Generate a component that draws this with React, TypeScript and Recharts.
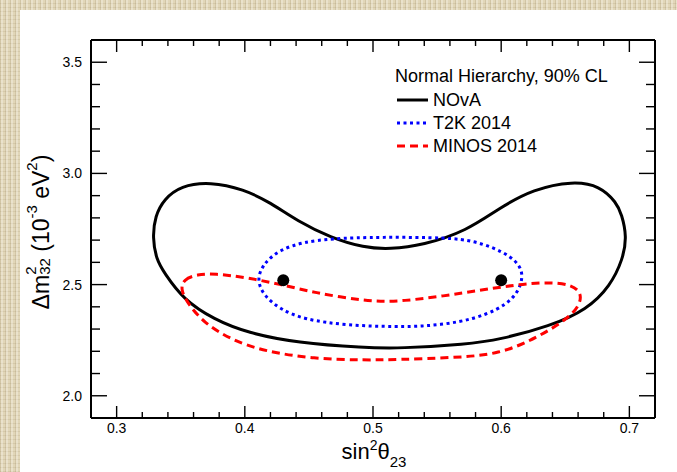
import { Legend, Scatter, ScatterChart, XAxis, YAxis } from 'recharts'

// 90% CL contours, (sin^2 theta23, dm^2_32 in 1e-3 eV^2), traced clockwise
const novaContour: [number, number][] = [
  [0.328, 2.711], [0.330, 2.809], [0.337, 2.884], [0.350, 2.944], [0.373, 2.962],
  [0.399, 2.929], [0.420, 2.869], [0.441, 2.786], [0.467, 2.711], [0.493, 2.666],
  [0.513, 2.659], [0.539, 2.677], [0.573, 2.741], [0.599, 2.846], [0.625, 2.929],
  [0.656, 2.966], [0.677, 2.944], [0.690, 2.869], [0.694, 2.816], [0.698, 2.718],
  [0.695, 2.614], [0.685, 2.493], [0.667, 2.388], [0.638, 2.313], [0.599, 2.253],
  [0.573, 2.231], [0.521, 2.213], [0.493, 2.216], [0.441, 2.238], [0.402, 2.283],
  [0.376, 2.343], [0.352, 2.433], [0.337, 2.554], [0.331, 2.613],
]

const t2kContour: [number, number][] = [
  [0.409, 2.523], [0.415, 2.599], [0.428, 2.659], [0.446, 2.691], [0.467, 2.707],
  [0.506, 2.714], [0.560, 2.711], [0.578, 2.696], [0.594, 2.666], [0.607, 2.628],
  [0.615, 2.583], [0.617, 2.531], [0.613, 2.464], [0.604, 2.411], [0.589, 2.366],
  [0.568, 2.331], [0.542, 2.313], [0.519, 2.310], [0.480, 2.316], [0.446, 2.343],
  [0.428, 2.388], [0.415, 2.448],
]

const minosContour: [number, number][] = [
  [0.350, 2.478], [0.352, 2.523], [0.363, 2.546], [0.376, 2.550], [0.402, 2.531],
  [0.428, 2.501], [0.454, 2.464], [0.493, 2.426], [0.521, 2.421], [0.573, 2.464],
  [0.612, 2.501], [0.638, 2.511], [0.654, 2.501], [0.663, 2.464], [0.661, 2.403],
  [0.651, 2.343], [0.630, 2.268], [0.599, 2.185], [0.560, 2.171], [0.521, 2.163],
  [0.493, 2.160], [0.454, 2.166], [0.415, 2.200], [0.389, 2.253], [0.368, 2.328],
  [0.355, 2.418],
]

// NOvA best-fit points (two octants)
const bestFits: [number, number][] = [
  [0.43, 2.52],
  [0.6, 2.52],
]

const xTicks = [
  0.3, 0.32, 0.34, 0.36, 0.38, 0.4, 0.42, 0.44, 0.46, 0.48, 0.5,
  0.52, 0.54, 0.56, 0.58, 0.6, 0.62, 0.64, 0.66, 0.68, 0.7,
]
const xMajor = [0.3, 0.4, 0.5, 0.6, 0.7]
const yTicks = [
  2.0, 2.1, 2.2, 2.3, 2.4, 2.5, 2.6, 2.7, 2.8, 2.9, 3.0, 3.1, 3.2, 3.3, 3.4, 3.5,
]
const yMajor = [2.0, 2.5, 3.0, 3.5]

const FONT = '"Liberation Sans", Arial, Helvetica, sans-serif'

const seriesStyle: Record<string, { stroke: string; dash?: string }> = {
  NOvA: { stroke: '#000000' },
  'T2K 2014': { stroke: '#0000ff', dash: '3 3.5' },
  'MINOS 2014': { stroke: '#ff0000', dash: '8 5' },
}

const contours = [
  { name: 'NOvA', points: novaContour },
  { name: 'T2K 2014', points: t2kContour },
  { name: 'MINOS 2014', points: minosContour },
]

const toPoints = (pts: [number, number][]) => pts.map(([x, y]) => ({ x, y }))

const isMajor = (list: number[], v: number) => list.some((m) => Math.abs(m - v) < 1e-9)

const tickText = { fontFamily: FONT, fontSize: 14, fill: '#000' }

function BottomTick({ x, y, payload }: any) {
  const major = isMajor(xMajor, payload.value)
  return (
    <g>
      <line x1={x} x2={x} y1={y} y2={y - (major ? 12 : 6)} stroke="#000" strokeWidth={1.4} />
      {major && (
        <text x={x} y={y + 15} textAnchor="middle" {...tickText}>
          {payload.value.toFixed(1)}
        </text>
      )}
    </g>
  )
}

function TopTick({ x, y, payload }: any) {
  const major = isMajor(xMajor, payload.value)
  return <line x1={x} x2={x} y1={y} y2={y + (major ? 12 : 6)} stroke="#000" strokeWidth={1.4} />
}

function LeftTick({ x, y, payload }: any) {
  const major = isMajor(yMajor, payload.value)
  return (
    <g>
      <line x1={x} x2={x + (major ? 16 : 9)} y1={y} y2={y} stroke="#000" strokeWidth={1.4} />
      {major && (
        <text x={x - 9} y={y + 5} textAnchor="end" {...tickText}>
          {payload.value.toFixed(1)}
        </text>
      )}
    </g>
  )
}

function RightTick({ x, y, payload }: any) {
  const major = isMajor(yMajor, payload.value)
  return <line x1={x} x2={x - (major ? 16 : 9)} y1={y} y2={y} stroke="#000" strokeWidth={1.4} />
}

function XTitle({ viewBox }: any) {
  const cx = viewBox.x + viewBox.width / 2 + 1
  const y = viewBox.y + 41
  return (
    <text x={cx} y={y} textAnchor="middle" fontFamily={FONT} fontSize={22} fill="#000">
      sin
      <tspan fontSize={14} dy={-9}>2</tspan>
      <tspan dy={9}>θ</tspan>
      <tspan fontSize={15} dy={8}>23</tspan>
    </text>
  )
}

function YTitle({ viewBox }: any) {
  const cx = viewBox.x - 2
  const cy = viewBox.y + viewBox.height / 2 + 3
  return (
    <text
      transform={`translate(${cx},${cy}) rotate(-90)`}
      textAnchor="middle"
      fontFamily={FONT}
      fontSize={23}
      fill="#000"
    >
      Δm
      <tspan fontSize={15} dy={-13}>2</tspan>
      <tspan fontSize={15} dx={-8.3} dy={14}>32</tspan>
      <tspan dy={-1}> (10</tspan>
      <tspan fontSize={15} dy={-12}>-3</tspan>
      <tspan dy={12}> eV</tspan>
      <tspan fontSize={15} dy={-12}>2</tspan>
      <tspan dy={12}>)</tspan>
    </text>
  )
}

// Legend rows follow the contour order, not the default alphabetical sort
function LegendBox() {
  return (
    <svg width={260} height={100} style={{ display: 'block', overflow: 'visible' }}>
      <text x={5} y={22} fontFamily={FONT} fontSize={18} fill="#000">
        Normal Hierarchy, 90% CL
      </text>
      {contours.map((c, i) => {
        const s = seriesStyle[c.name]
        return (
          <g key={c.name}>
            <line
              x1={7}
              x2={38}
              y1={40 + 23 * i}
              y2={40 + 23 * i}
              stroke={s.stroke}
              strokeWidth={3}
              strokeDasharray={s.dash}
            />
            <text x={43} y={46 + 23 * i} fontFamily={FONT} fontSize={18} fill="#000">
              {c.name}
            </text>
          </g>
        )
      })}
    </svg>
  )
}

const NoMarker = () => <g />

const BestFitMarker = ({ cx, cy }: any) => <circle cx={cx} cy={cy} r={6} fill="#000" />

export default function App() {
  const frame = { stroke: '#000', strokeWidth: 2 }
  return (
    <div
      style={{
        position: 'absolute',
        left: 0,
        top: 0,
        width: 677,
        height: 472,
        overflow: 'hidden',
        backgroundColor: '#e1d6b8',
        backgroundImage:
          'repeating-linear-gradient(90deg, rgba(140,120,80,0.18) 0 1px, rgba(255,255,250,0.3) 1px 3px, transparent 3px 5px), repeating-linear-gradient(0deg, rgba(140,120,80,0.14) 0 1px, transparent 1px 4px)',
      }}
    >
      <div style={{ position: 'absolute', left: 20, top: 10, right: 0, bottom: 0, background: '#fff' }} />
      <div style={{ position: 'absolute', left: 0, top: 0 }}>
        <ScatterChart width={677} height={472} margin={{ top: 35, right: 17, bottom: 24, left: 51 }}>
          <XAxis
            type="number"
            dataKey="x"
            domain={[0.28, 0.72]}
            ticks={xTicks}
            interval={0}
            allowDataOverflow
            height={30}
            tickSize={0}
            tickMargin={0}
            tickLine={false}
            axisLine={frame}
            tick={<BottomTick />}
            label={<XTitle />}
          />
          <XAxis
            xAxisId="top"
            orientation="top"
            type="number"
            dataKey="x"
            domain={[0.28, 0.72]}
            ticks={xTicks}
            interval={0}
            allowDataOverflow
            height={5}
            tickSize={0}
            tickMargin={0}
            tickLine={false}
            axisLine={frame}
            tick={<TopTick />}
          />
          <YAxis
            type="number"
            dataKey="y"
            domain={[1.9, 3.6]}
            ticks={yTicks}
            interval={0}
            allowDataOverflow
            width={40}
            tickSize={0}
            tickMargin={0}
            tickLine={false}
            axisLine={frame}
            tick={<LeftTick />}
            label={<YTitle />}
          />
          <YAxis
            yAxisId="right"
            orientation="right"
            type="number"
            dataKey="y"
            domain={[1.9, 3.6]}
            ticks={yTicks}
            interval={0}
            allowDataOverflow
            width={5}
            tickSize={0}
            tickMargin={0}
            tickLine={false}
            axisLine={frame}
            tick={<RightTick />}
          />
          {contours.map((c) => {
            const s = seriesStyle[c.name]
            return (
              <Scatter
                key={c.name}
                name={c.name}
                data={toPoints(c.points)}
                fill={s.stroke}
                shape={NoMarker}
                line={{ stroke: s.stroke, strokeWidth: 3, strokeDasharray: s.dash }}
                lineType="joint"
                lineJointType="basisClosed"
                isAnimationActive={false}
              />
            )
          })}
          <Scatter
            name="Best fit"
            data={toPoints(bestFits)}
            fill="#000"
            shape={BestFitMarker}
            legendType="none"
            isAnimationActive={false}
          />
          <Legend
            layout="horizontal"
            verticalAlign="middle"
            align="center"
            content={<LegendBox />}
            wrapperStyle={{ left: 390, top: 60, width: 260, height: 100 }}
          />
        </ScatterChart>
      </div>
    </div>
  )
}
